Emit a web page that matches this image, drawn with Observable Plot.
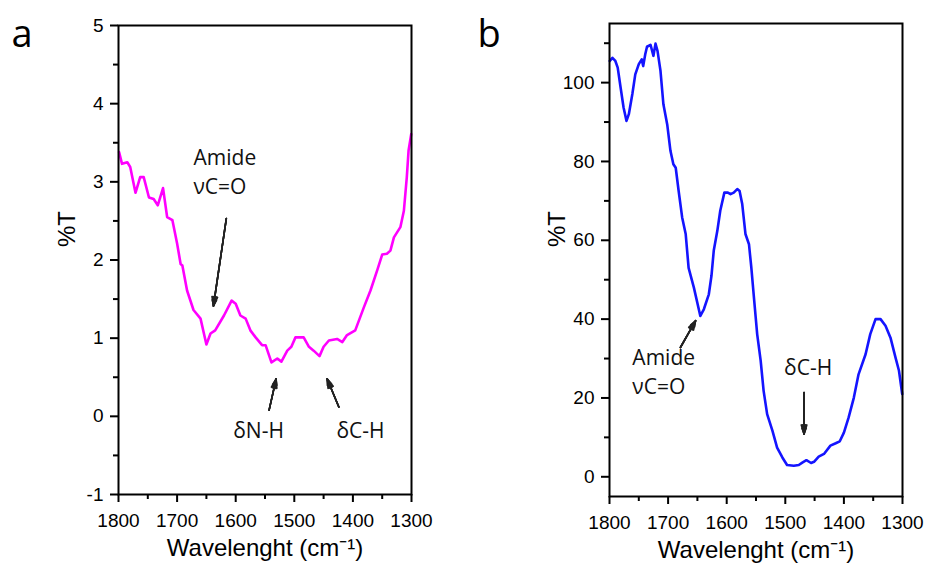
<!DOCTYPE html>
<html>
<head>
<meta charset="utf-8">
<script src="https://cdn.jsdelivr.net/npm/d3@7"></script>
<script src="https://cdn.jsdelivr.net/npm/@observablehq/plot@0.6"></script>
<style>
  html, body { margin: 0; padding: 0; background: white; }
  #wrap { position: relative; width: 926px; height: 572px; overflow: hidden; }
  #pa, #pb { position: absolute; top: 0; }
  #pa { left: 0; }
  #pb { left: 463px; }
</style>
</head>
<body>
<div id="wrap"><div id="pa"></div><div id="pb"></div></div>
<script>
// ---- Panel a data (wavenumber, %T) ----
const waveA = [1799,1794,1785,1780,1771,1763,1757,1748,1740,1733,1724,1717,1708,1700,1694,1691,1683,1672,1660,1650,1643,1635,1620,1607,1600,1592,1583,1575,1566,1555,1549,1539,1529,1522,1512,1505,1498,1491,1484,1475,1467,1457,1450,1441,1427,1418,1410,1396,1381,1370,1358,1350,1342,1336,1330,1319,1313,1308,1305,1300.5];
const transA = [3.38,3.23,3.25,3.19,2.86,3.06,3.06,2.80,2.78,2.70,2.92,2.55,2.51,2.21,1.95,1.93,1.61,1.36,1.25,0.92,1.06,1.10,1.29,1.48,1.44,1.29,1.25,1.10,1.01,0.91,0.91,0.69,0.74,0.70,0.84,0.89,1.01,1.01,1.01,0.89,0.84,0.77,0.89,0.97,0.99,0.95,1.04,1.10,1.40,1.61,1.88,2.07,2.08,2.12,2.29,2.42,2.63,3.06,3.40,3.61];

// ---- Panel b data ----
const waveB = [1799.5,1795,1790,1786,1781,1776,1771,1767,1761,1756,1750,1745,1742.5,1739,1736,1730,1725,1721.5,1718,1713,1708,1701.5,1696,1691,1687,1682,1676,1670,1665,1656,1645,1639,1630.5,1626,1622,1616,1611,1604,1598,1593.5,1588,1582,1578,1573.5,1568,1562,1558,1554,1548,1542,1537,1531,1522,1514,1505,1497,1485.5,1477,1471,1464,1456,1451,1443,1434,1423,1414,1407,1400,1392,1383,1375,1363,1355,1346,1337.5,1329,1320.5,1312,1306,1300.5];
const transB = [105.5,106.3,105.5,103.8,98.7,93.7,90.3,92.0,97.1,102.1,104.7,105.9,104.2,107.2,109.1,109.6,106.8,109.9,108.0,103.0,94.5,89.4,82.7,79.3,78.4,72.5,65.8,61.6,53.0,48.0,40.8,42.5,46.3,51.0,57.5,62.4,67.5,72.1,72.1,71.7,72.1,73.0,72.5,69.2,61.6,59.0,53.1,46.3,36.2,29.4,21.8,15.9,11.7,7.4,4.9,3.0,2.8,3.0,3.6,4.2,3.5,3.8,5.1,5.8,7.9,8.5,9.0,11.2,15.0,20.1,26.0,31.1,36.2,40.0,40.0,38.3,35.3,30.3,26.9,21.0];

// ---- Axis ticks ----
const xMajor = [1800,1700,1600,1500,1400,1300];
const xMinor = [1750,1650,1550,1450,1350];
const yMajorA = [-1,0,1,2,3,4,5];
const yMinorA = [-0.5,0.5,1.5,2.5,3.5,4.5];
const yMajorB = [0,20,40,60,80,100];
const yMinorB = [10,30,50,70,90,110];

// ---- Annotations ----
const labelsA = ["Amide","νC=O","δN-H","δC-H"];
const labelAx = [1672,1672,1561,1387];
const labelAy = [3.30,2.93,-0.19,-0.19];
const labelAanchor = ["start","start","middle","middle"];
const arrowsA = {x1:[1616,1543,1424], y1:[2.53,0.08,0.12], x2:[1638,1531,1444], y2:[1.41,0.48,0.48]};

const labelsB = ["Amide","νC=O","δC-H"];
const labelBx = [1761,1761,1461];
const labelBy = [30.0,22.6,27.5];
const labelBanchor = ["start","start","middle"];
const arrowsB = {x1:[1679,1468], y1:[32.8,21.4], x2:[1653,1468], y2:[39.6,10.8]};

const xTitle = "Wavelenght (cm⁻¹)";
const yTitle = "%T";

const tickFont = "Liberation Sans, Arial, sans-serif";
const annFont = "Open Sans, sans-serif";
const headAngles = [44, 34, 24, 14, 6];

function panel(opts) {
  const curve = opts.wave.map((w, i) => ({w, t: opts.trans[i]}));
  const labels = opts.labels.map((s, i) => ({s, x: opts.lx[i], y: opts.ly[i], a: opts.la[i]}));
  const arrows = opts.arrows.x1.map((_, i) => ({x1: opts.arrows.x1[i], y1: opts.arrows.y1[i], x2: opts.arrows.x2[i], y2: opts.arrows.y2[i]}));
  return Plot.plot({
    width: 463,
    height: 572,
    marginLeft: opts.ml, marginRight: opts.mr, marginTop: opts.mt, marginBottom: opts.mb,
    style: {fontFamily: tickFont, fontSize: "19px", background: "white", color: "black", overflow: "visible"},
    x: {domain: [1800, 1300]},
    y: {domain: opts.ydomain},
    marks: [
      Plot.line(curve, {x: "w", y: "t", stroke: opts.color, strokeWidth: 2.6, curve: "linear"}),
      ...headAngles.map((ha, k) => Plot.arrow(arrows, {x1: "x1", y1: "y1", x2: "x2", y2: "y2", stroke: "#222", strokeWidth: k === 0 ? 1.1 : 1.6, headLength: 9, headAngle: ha})),
      Plot.text(labels.filter(d => d.a === "start"), {x: "x", y: "y", text: "s", textAnchor: "start", fontSize: 21, fontFamily: annFont, fill: "#111"}),
      Plot.text(labels.filter(d => d.a === "middle"), {x: "x", y: "y", text: "s", textAnchor: "middle", fontSize: 21, fontFamily: annFont, fill: "#111"}),
      Plot.axisX({ticks: xMajor, tickSize: 8, tickPadding: 11, strokeWidth: 2, label: null, tickFormat: d => String(d)}),
      Plot.axisX({ticks: xMinor, tickSize: 5, strokeWidth: 2, label: null, tickFormat: () => ""}),
      Plot.axisY({ticks: opts.yMajor, tickSize: 8, tickPadding: 7, strokeWidth: 2, label: null, tickFormat: d => String(d)}),
      Plot.axisY({ticks: opts.yMinor, tickSize: 5, strokeWidth: 2, label: null, tickFormat: () => ""}),
      Plot.frame({stroke: "black", strokeWidth: 2}),
      Plot.text([yTitle], {frameAnchor: "left", dx: -opts.ylOff, dy: -13, rotate: -90, fontSize: 24, fontFamily: tickFont, fill: "black"}),
      Plot.text([xTitle], {frameAnchor: "bottom", dy: 61, fontSize: 24, fontFamily: tickFont, fill: "black"}),
      Plot.text([opts.letter], {frameAnchor: "top-left", dx: opts.letterDx, dy: opts.letterDy, lineAnchor: "bottom", textAnchor: "start", fontSize: 38, fontFamily: annFont, fill: "black"})
    ]
  });
}

document.getElementById("pa").appendChild(panel({
  wave: waveA, trans: transA, color: "#ff00ff",
  ml: 118, mr: 52, mt: 25, mb: 78, ydomain: [-1, 5],
  yMajor: yMajorA, yMinor: yMinorA,
  labels: labelsA, lx: labelAx, ly: labelAy, la: labelAanchor, arrows: arrowsA,
  ylOff: 51, letter: "a", letterDx: -107, letterDy: 21
}));

document.getElementById("pb").appendChild(panel({
  wave: waveB, trans: transB, color: "#1414ff",
  ml: 146, mr: 24, mt: 23, mb: 76, ydomain: [-5, 115],
  yMajor: yMajorB, yMinor: yMinorB,
  labels: labelsB, lx: labelBx, ly: labelBy, la: labelBanchor, arrows: arrowsB,
  ylOff: 52, letter: "b", letterDx: -132, letterDy: 23
}));
</script>
</body>
</html>
